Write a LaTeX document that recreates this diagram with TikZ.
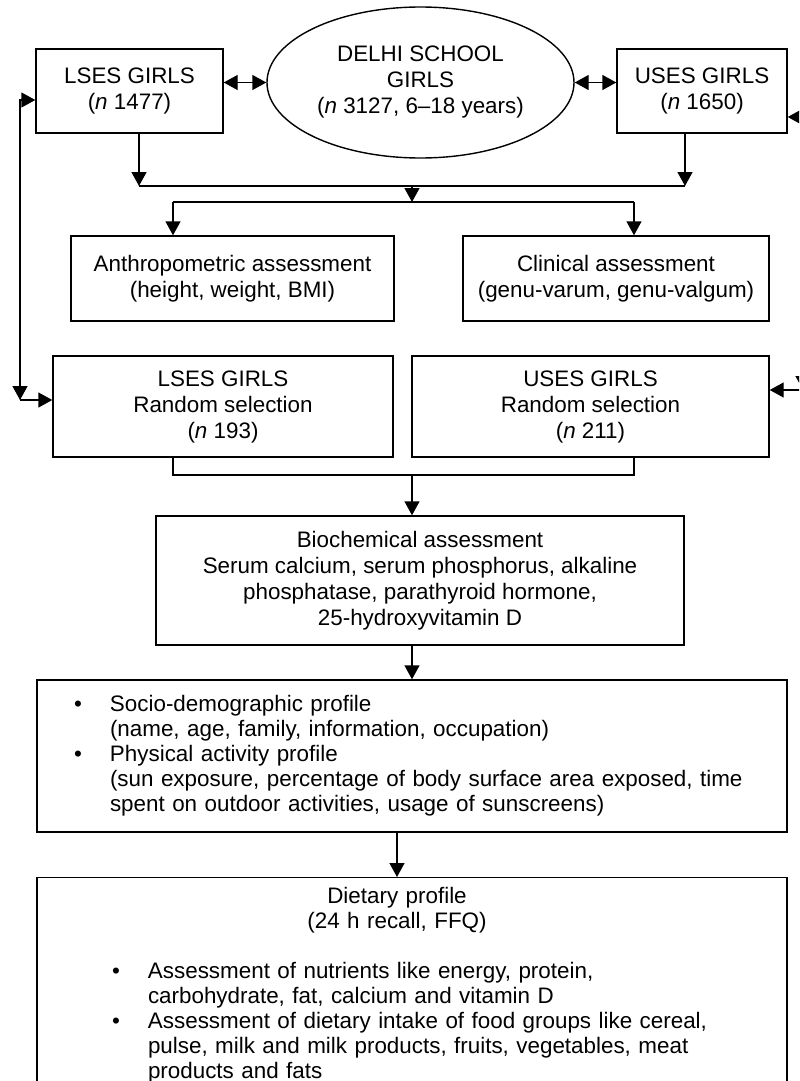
\documentclass[tikz,border=0pt]{standalone}
\usepackage{fontspec}
\setmainfont{Liberation Sans}
\usetikzlibrary{calc}
\usetikzlibrary{arrows.meta}
\usetikzlibrary{shapes.geometric}

\begin{document}
\begin{tikzpicture}[
		x=0.5pt, y=-0.5pt,
		font=\fontsize{11.2}{13}\selectfont,
		box/.style={draw, rectangle, line width=0.7pt, inner sep=0pt, align=center},
		panel/.style={draw, rectangle, line width=0.7pt, inner xsep=0pt, inner ysep=5pt, font=\fontsize{11.2}{12.5}\selectfont},
		flow/.style={line width=0.7pt, -{Triangle[length=7pt, width=7.5pt]}},
		twoway/.style={line width=0.7pt, {Triangle[length=7pt, width=7.5pt]}-{Triangle[length=7pt, width=7.5pt]}},
		link/.style={line width=0.7pt}
	]

	\def\pxu{0.5pt} % one pixel of the figure
	\newcommand{\blt}{\leavevmode\llap{\textbullet\hspace{14pt}}}

	\useasboundingbox (0,0) rectangle (799,1081);
	\clip (0,0) rectangle (799,1081);

	% the whole sample and its two strata
	\node[box, ellipse, minimum width=307*\pxu, minimum height=151*\pxu] (school) at (420.5,82.5) {DELHI SCHOOL\\GIRLS\\(\textit{n} 3127, 6--18 years)};
	\node[box, minimum width=187*\pxu, minimum height=84*\pxu] (lses) at (129.5,91) {LSES GIRLS\\(\textit{n} 1477)};
	\node[box, minimum width=170*\pxu, minimum height=84*\pxu] (uses) at (702,91) {USES GIRLS\\(\textit{n} 1650)};

	\draw[twoway] (lses.east |- school.west) -- (school.west);
	\draw[twoway] (school.east) -- (uses.west |- school.east);

	% assessments of all girls
	\node[box, minimum width=323*\pxu, minimum height=85*\pxu] (anthro) at (232.5,278.5) {Anthropometric assessment\\(height, weight, BMI)};
	\node[box, minimum width=306*\pxu, minimum height=85*\pxu] (clinic) at (616,278.5) {Clinical assessment\\(genu-varum, genu-valgum)};

	\coordinate (joinL) at (139,186);
	\coordinate (joinR) at (685,186);
	\coordinate (joinC) at (412,186);
	\coordinate (splitC) at (412,202);
	\coordinate (splitL) at (173,202);
	\coordinate (splitR) at (634,202);

	\draw[flow] (lses.south -| joinL) -- (joinL);
	\draw[flow] (uses.south -| joinR) -- (joinR);
	\draw[link] (joinL) -- (joinR);
	\draw[flow] (joinC) -- (splitC);
	\draw[link] (splitL) -- (splitR);
	\draw[flow] (splitL) -- (anthro.north -| splitL);
	\draw[flow] (splitR) -- (clinic.north -| splitR);

	% random selection
	\node[box, minimum width=340*\pxu, minimum height=101*\pxu] (lsesR) at (223,406.5) {LSES GIRLS\\Random selection\\(\textit{n} 193)};
	\node[box, minimum width=357*\pxu, minimum height=101*\pxu] (usesR) at (590.5,406.5) {USES GIRLS\\Random selection\\(\textit{n} 211)};

	\coordinate (loopLt) at (20,100);
	\coordinate (loopLb) at (20,400);
	\coordinate (loopRt) at (803,117);
	\coordinate (loopRb) at (803,390);

	\draw[twoway] (lses.west |- loopLt) -| (loopLb);
	\draw[flow] (loopLb) -- (lsesR.west |- loopLb);
	\draw[twoway] (uses.east |- loopRt) -| (loopRb);
	\draw[flow] (loopRb) -- (usesR.east |- loopRb);

	% biochemistry of the subsample
	\node[box, minimum width=528*\pxu, minimum height=129*\pxu] (bio) at (420,580.5) {Biochemical assessment\\Serum calcium, serum phosphorus, alkaline\\phosphatase, parathyroid hormone,\\25-hydroxyvitamin D};

	\coordinate (mergeL) at (173,475);
	\coordinate (mergeR) at (634,475);
	\coordinate (mergeC) at (412,475);

	\draw[link] (lsesR.south -| mergeL) |- (mergeR) -- (usesR.south -| mergeR);
	\draw[flow] (mergeC) -- (bio.north -| mergeC);

	% questionnaires
	\node[panel, text width=750*\pxu, minimum height=152*\pxu] (socio) at (412,756) {\raggedright\leftskip=36.5pt
		\blt Socio-demographic profile\\
		(name, age, family, information, occupation)\\
		\blt Physical activity profile\\
		(sun exposure, percentage of body surface area exposed, time\\
		spent on outdoor activities, usage of sunscreens)\par};

	\node[panel, text width=750*\pxu, anchor=north] (diet) at (412,877) {\centering\rightskip=15pt plus 1fil
		Dietary profile\\(24 h recall, FFQ)\par
		\vspace{12.5pt}\raggedright\leftskip=55.5pt
		\blt Assessment of nutrients like energy, protein,\\
		carbohydrate, fat, calcium and vitamin D\\
		\blt Assessment of dietary intake of food groups like cereal,\\
		pulse, milk and milk products, fruits, vegetables, meat\\
		products and fats\rule[-20pt]{0pt}{20pt}\par};

	\draw[flow] (bio.south -| mergeC) -- (socio.north -| mergeC);
	\draw[flow] ($(socio.south)+(-15,0)$) -- ($(diet.north)+(-15,0)$);

\end{tikzpicture}
\end{document}
